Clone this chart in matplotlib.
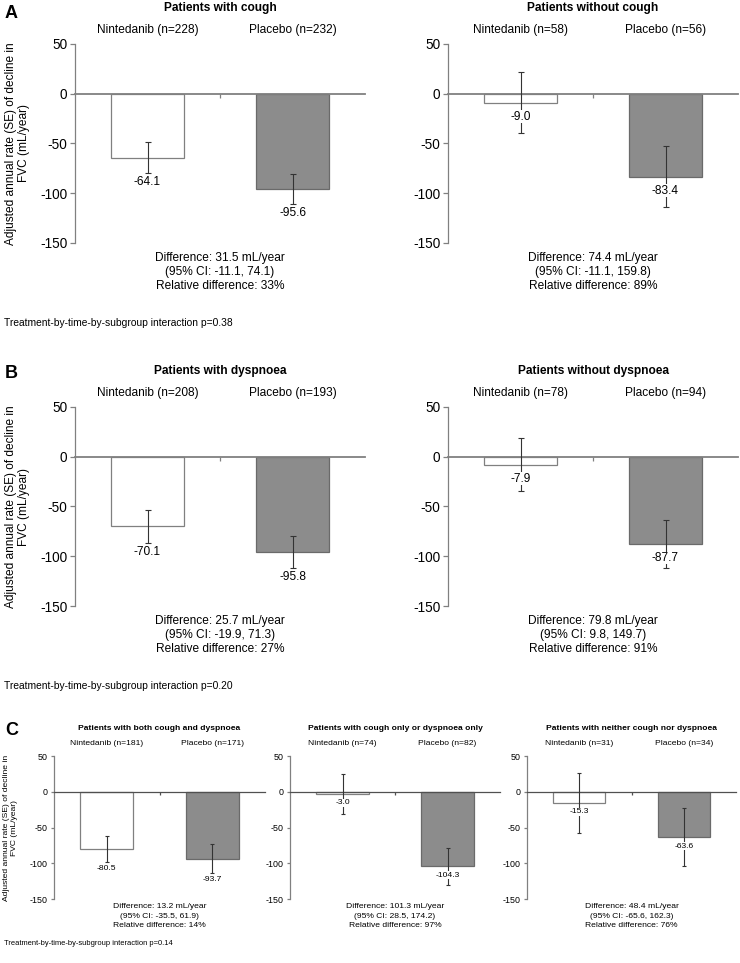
import matplotlib
matplotlib.use("Agg")
import matplotlib.pyplot as plt
import matplotlib.transforms as mtransforms

# ---------------- data ----------------
panel_titles = [
    "Patients with cough", "Patients without cough",
    "Patients with dyspnoea", "Patients without dyspnoea",
    "Patients with both cough and dyspnoea",
    "Patients with cough only or dyspnoea only",
    "Patients with neither cough nor dyspnoea",
]
groups = ["Nintedanib", "Placebo"]
n_nintedanib = [228, 58, 208, 78, 181, 74, 31]
n_placebo = [232, 56, 193, 94, 171, 82, 34]
rate_nintedanib = [-64.1, -9.0, -70.1, -7.9, -80.5, -3.0, -15.3]
rate_placebo = [-95.6, -83.4, -95.8, -87.7, -93.7, -104.3, -63.6]
se_nintedanib = [15.3, 30.6, 16.5, 27.0, 18.0, 27.5, 42.0]
se_placebo = [15.2, 30.5, 16.5, 24.0, 20.5, 26.0, 40.5]
difference = ["31.5", "74.4", "25.7", "79.8", "13.2", "101.3", "48.4"]
ci_low = ["-11.1", "-11.1", "-19.9", "9.8", "-35.5", "28.5", "-65.6"]
ci_high = ["74.1", "159.8", "71.3", "149.7", "61.9", "174.2", "162.3"]
relative_difference = [33, 89, 27, 91, 14, 97, 76]
panel_letters = ["A", "B", "C"]
interaction_p = ["0.38", "0.20", "0.14"]
yticks = [50, 0, -50, -100, -150]
ylabel_text = "Adjusted annual rate (SE) of decline in\nFVC (mL/year)"

# ---------------- layout (pixels) ----------------
W, H = 740, 963
fig = plt.figure(figsize=(W / 100, H / 100), dpi=100)
plt.rcParams["font.family"] = ["Liberation Sans", "DejaVu Sans"]


def fy(y):
    return 1 - y / H


def fx(x):
    return x / W


# (x0, x1, ytop, ybottom)
boxes = [(75, 365, 44, 243), (448, 738, 44, 243),
         (75, 365, 407, 606), (448, 738, 407, 606),
         (54, 265, 756, 899), (290, 500, 756, 899), (527, 736, 756, 899)]
panel_row = [0, 0, 1, 1, 2, 2, 2]
# row layout: title y, group label y, diff lines y, interaction y, letter y
rows = [
    dict(title=8, grp=30, diff=(258, 272, 286), inter=323, letter=13,
         fs=8.6, fs_tick=9.8, fs_title=8.6, fs_inter=7.4, fs_letter=13,
         ylab_x=17.5, zl=1.3, zc="#808080", off_err=9, off_bar=14, scale=1.0),
    dict(title=371, grp=393, diff=(621, 635, 649), inter=686, letter=373,
         fs=8.6, fs_tick=9.8, fs_title=8.6, fs_inter=7.4, fs_letter=13,
         ylab_x=17.5, zl=1.3, zc="#808080", off_err=9, off_bar=14, scale=1.0),
    dict(title=728, grp=743, diff=(906, 916, 925), inter=943, letter=730,
         fs=6.1, fs_tick=6.4, fs_title=6.1, fs_inter=5.4, fs_letter=13,
         ylab_x=10.5, zl=0.9, zc="#505050", off_err=6, off_bar=9, scale=0.72),
]
label_mode = ["err", "bar", "err", "bar", "err", "bar", "bar"]

bar_fill = ["white", "#8c8c8c"]
bar_edge = ["#808080", "#6a6a6a"]

for i in range(7):
    r = rows[panel_row[i]]
    x0, x1, yt, yb = boxes[i]
    ax = fig.add_axes([fx(x0), fy(yb), fx(x1 - x0), (yb - yt) / H])
    xs = [0, 1]
    vals = [rate_nintedanib[i], rate_placebo[i]]
    ses = [se_nintedanib[i], se_placebo[i]]
    ax.bar(xs, vals, width=0.5, color=bar_fill, edgecolor=bar_edge,
           linewidth=0.9, zorder=2)
    ax.errorbar(xs, vals, yerr=ses, fmt="none", ecolor="#333333",
                elinewidth=0.8, capsize=1.8 * r["scale"] + 0.3, capthick=0.8,
                zorder=3)
    ax.set_xlim(-0.5, 1.5)
    ax.set_ylim(-150, 50)
    for s in ["top", "right"]:
        ax.spines[s].set_visible(False)
    ax.spines["bottom"].set_position(("data", 0))
    ax.spines["bottom"].set_color(r["zc"])
    ax.spines["bottom"].set_linewidth(r["zl"])
    ax.spines["bottom"].set_zorder(2.5)
    ax.spines["left"].set_color("#808080")
    ax.spines["left"].set_linewidth(0.9)
    ax.set_yticks(yticks)
    ax.set_yticklabels([str(t) for t in yticks])
    ax.tick_params(axis="y", direction="out", length=3.5 * r["scale"],
                   color="#808080", width=0.9, labelsize=r["fs_tick"], pad=2)
    ax.set_xticks([0.5])
    ax.tick_params(axis="x", direction="out", length=3 * r["scale"],
                   color=r["zc"], width=0.9, labelbottom=False)
    ax.patch.set_alpha(0)

    # value labels
    for xi, v, se in zip(xs, vals, ses):
        if label_mode[i] == "err":
            anchor = v - se
            off = r["off_err"]
        else:
            anchor = v
            off = r["off_bar"]
        ax.annotate(f"{v:.1f}", xy=(xi, anchor), xytext=(0, -off * 0.72),
                    textcoords="offset points", ha="center", va="center",
                    fontsize=r["fs"], zorder=5,
                    bbox=dict(facecolor="white", edgecolor="none", pad=0.3))

    # group labels
    trans = mtransforms.blended_transform_factory(ax.transData, fig.transFigure)
    ns = [n_nintedanib[i], n_placebo[i]]
    for xi, g, n in zip(xs, groups, ns):
        ax.text(xi, fy(r["grp"]), f"{g} (n={n})", transform=trans,
                ha="center", va="center", fontsize=r["fs"])

    cx = (x0 + x1) / 2
    fig.text(fx(cx), fy(r["title"]), panel_titles[i], ha="center",
             va="center", fontsize=r["fs_title"], fontweight="bold")
    lines = [f"Difference: {difference[i]} mL/year",
             f"(95% CI: {ci_low[i]}, {ci_high[i]})",
             f"Relative difference: {relative_difference[i]}%"]
    for ly, txt in zip(r["diff"], lines):
        fig.text(fx(cx), fy(ly), txt, ha="center", va="center",
                 fontsize=r["fs"])

    if i in (0, 2, 4):
        fig.text(fx(r["ylab_x"]), fy((yt + yb) / 2), ylabel_text,
                 rotation=90, ha="center", va="center",
                 multialignment="center", fontsize=r["fs"], linespacing=1.15)

for k, r in enumerate(rows):
    fig.text(fx(5), fy(r["letter"]), panel_letters[k], ha="left",
             va="center", fontsize=r["fs_letter"], fontweight="bold")
    fig.text(fx(4), fy(r["inter"]),
             f"Treatment-by-time-by-subgroup interaction p={interaction_p[k]}",
             ha="left", va="center", fontsize=r["fs_inter"])

fig.savefig("out.png", dpi=100)
